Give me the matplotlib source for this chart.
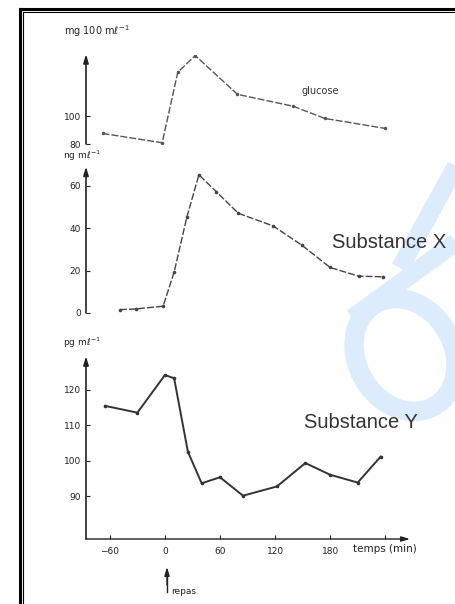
import matplotlib
matplotlib.use("Agg")
import matplotlib.pyplot as plt
from matplotlib.lines import Line2D
from matplotlib.patches import Arc

# values (time in min)
glucose_t = [-68, -3, 14, 33, 79, 140, 174, 240]
glucose = [87.6, 80.9, 131.6, 143.6, 115.7, 107.1, 98.4, 91.2]

subx_t = [-49, -32, -2, 10, 24, 37, 56, 80, 118, 149, 180, 211, 238]
subx = [1.6, 1.9, 3.2, 19.3, 45.5, 65.3, 57.3, 47.1, 41.1, 32.1, 21.5, 17.4, 17.1]

suby_t = [-65, -30, 0, 10, 25, 40, 60, 85, 122, 153, 180, 210, 235]
suby = [115.5, 113.6, 124.2, 123.3, 102.6, 93.7, 95.4, 90.2, 92.8, 99.4, 96.1, 93.9, 101.2]

x_ticks = [-60, 0, 60, 120, 180, 240]
x_ticklabels = ["\u221260", "0", "60", "120", "180", ""]

W, H = 456, 604
fig = plt.figure(figsize=(W / 100, H / 100), dpi=100)
fig.patch.set_facecolor("white")

def fx(px):
    return px / W

def fy(py):
    return 1 - py / H

# faint blue watermark on the right (pixel coords)
wm = fig.add_axes([0, 0, 1, 1], zorder=0)
wm.set_xlim(0, W)
wm.set_ylim(H, 0)
wm.axis("off")
blue = "#ddecfc"
wm.add_patch(Arc((405, 355), 96, 118, angle=-30, lw=14, color=blue))
wm.plot([352, 470], [318, 232], color=blue, lw=13, solid_capstyle="butt")
wm.plot([465, 440, 400], [150, 195, 268], color=blue, lw=13, solid_capstyle="butt")

# frame of the scan
fig.add_artist(Line2D([fx(20), fx(20)], [0, fy(9)], color="black", lw=2.2))
fig.add_artist(Line2D([fx(23.5), fx(23.5)], [0, fy(12)], color="black", lw=0.8))
fig.add_artist(Line2D([fx(20), 1], [fy(9), fy(9)], color="black", lw=2.2))
fig.add_artist(Line2D([fx(23.5), 1], [fy(12), fy(12)], color="black", lw=0.8))

left, width = fx(86), (410 - 86) / W
xlim = (-86, 267)
tick_kw = dict(labelsize=6.5, colors="#222222", direction="in", length=3, width=0.8)
arrow = dict(arrowstyle="-|>,head_length=0.5,head_width=0.15",
             color="#222222", lw=1.2, shrinkA=0, shrinkB=0)

def setup(ax, ylim, yticks):
    ax.set_xlim(*xlim)
    ax.set_ylim(*ylim)
    ax.patch.set_alpha(0)
    for s in ["top", "right", "bottom", "left"]:
        ax.spines[s].set_visible(False)
    ax.set_yticks(yticks)
    ax.tick_params(axis="y", **tick_kw)
    ax.annotate("", xy=(0, 1.01), xytext=(0, 0), xycoords="axes fraction", arrowprops=arrow)

# glucose
ax1 = fig.add_axes([left, fy(144), width, (144 - 55) / H])
setup(ax1, (80, 144), [80, 100])
ax1.set_xticks([])
ax1.plot(glucose_t, glucose, color="#555555", lw=1.0, ls=(0, (5, 1.5)),
         marker="o", ms=1.5)
fig.text(fx(97), fy(31), r"mg 100 m$\ell^{-1}$", fontsize=7, ha="center", va="center", color="#222222")
fig.text(fx(320), fy(91), "glucose", fontsize=7, ha="center", va="center", color="#333333")

# substance X
ax2 = fig.add_axes([left, fy(313), width, (313 - 168) / H])
setup(ax2, (0, 68.5), [0, 20, 40, 60])
ax2.set_xticks([])
ax2.plot(subx_t, subx, color="#444444", lw=1.0, ls=(0, (5, 1.5)),
         marker="o", ms=1.6)
fig.text(fx(82), fy(156), r"ng m$\ell^{-1}$", fontsize=6.5, ha="center", va="center", color="#222222")
fig.text(fx(332), fy(243), "Substance X", fontsize=14.5, ha="left", va="center",
         color="#333333", family="Liberation Sans")

# substance Y
ax3 = fig.add_axes([left, fy(539), width, (539 - 358) / H])
setup(ax3, (78, 129), [90, 100, 110, 120])
ax3.set_xticks(x_ticks)
ax3.set_xticklabels(x_ticklabels)
ax3.tick_params(axis="x", **tick_kw, pad=6)
ax3.annotate("", xy=(1.0, 0), xytext=(0, 0), xycoords="axes fraction",
             arrowprops=dict(arrow, lw=1.0))
ax3.plot(suby_t, suby, color="#333333", lw=1.4, marker="o", ms=1.6)
fig.text(fx(82), fy(343), r"pg m$\ell^{-1}$", fontsize=6.5, ha="center", va="center", color="#222222")
fig.text(fx(304), fy(422), "Substance Y", fontsize=14.5, ha="left", va="center",
         color="#333333", family="Liberation Sans")
fig.text(fx(353), fy(549), "temps (min)", fontsize=7.5, ha="left", va="center", color="#222222")

# meal marker
fig.add_artist(Line2D([fx(167), fx(167)], [fy(592), fy(572)], color="#222222", lw=1.0))
ax3.annotate("", xy=(fx(167), fy(567)), xytext=(fx(167), fy(585)), xycoords="figure fraction",
             arrowprops=dict(arrow, lw=1.0))
fig.text(fx(171), fy(591), "repas", fontsize=6.5, ha="left", va="center", color="#222222")

fig.savefig("out.png", dpi=100)
